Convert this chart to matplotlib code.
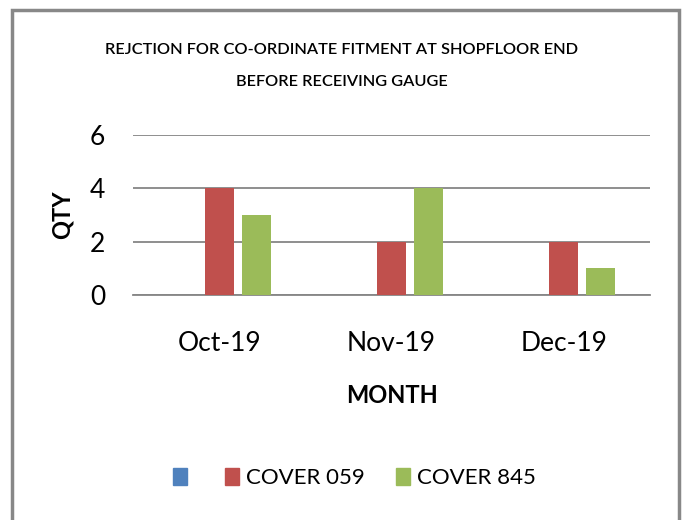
import matplotlib.pyplot as plt
import matplotlib.patches as mpatches
import numpy as np

months = ['Oct-19', 'Nov-19', 'Dec-19']
series_names = ['', 'COVER 059', 'COVER 845']
blank = [0, 0, 0]
cover_059 = [4, 2, 2]
cover_845 = [3, 4, 1]
colors = ['#4F81BD', '#C0504D', '#9BBB59']
title_lines = ['REJCTION FOR CO-ORDINATE FITMENT AT SHOPFLOOR END', 'BEFORE RECEIVING GAUGE']

plt.rcParams['font.family'] = ['Lato', 'DejaVu Sans']

fig = plt.figure(figsize=(6.84, 5.2), dpi=100)
ax = fig.add_axes([133 / 684, 1 - 295 / 520, 517 / 684, 160 / 520])

x = np.arange(len(months))
width = 0.169
step = 0.215
for i, (vals, name) in enumerate(zip([blank, cover_059, cover_845], series_names)):
    ax.bar(x + (i - 1) * step, vals, width, color=colors[i], label=name, zorder=3)

ax.set_xlim(-0.5, 2.5)
ax.set_ylim(0, 6)
ax.set_yticks([0, 2, 4, 6])
ax.yaxis.grid(True, color='#868686', linewidth=1.3, zorder=0)
for s in ['top', 'right', 'left']:
    ax.spines[s].set_visible(False)
ax.spines['bottom'].set_color('#868686')
ax.spines['bottom'].set_linewidth(1.3)
ax.set_xticks(x)
ax.set_xticklabels(months)
ax.tick_params(axis='both', length=0, labelsize=19)
ax.tick_params(axis='y', pad=20)
ax.tick_params(axis='x', pad=26)

ax.set_ylabel('QTY', fontsize=17, fontweight='bold', labelpad=12)
ax.set_xlabel('MONTH', fontsize=17, fontweight='bold', labelpad=20)

for k, line in enumerate(title_lines):
    fig.text(0.5, 1 - (50 + 32 * k) / 520, line, ha='center', va='center',
             fontsize=11.8, fontweight='semibold')

handles = [mpatches.Patch(color=c) for c in colors]
fig.legend(handles, series_names, loc='center', bbox_to_anchor=(0.518, 1 - 478 / 520),
           ncol=3, frameon=False, fontsize=16, handlelength=0.65, handleheight=0.8,
           handletextpad=0.3, columnspacing=1.4)

# outer chart border
fig.patches.append(mpatches.Rectangle((12 / 684, -0.05), 667 / 684, 1.05 - 10 / 520,
                                      transform=fig.transFigure, fill=False,
                                      edgecolor='#888888', linewidth=2.5))

fig.savefig('out.png', dpi=100)
